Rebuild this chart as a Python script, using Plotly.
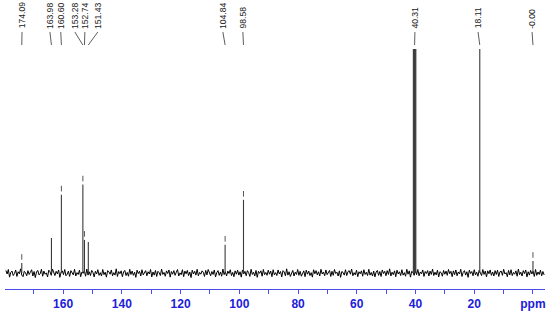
import numpy as np
import plotly.graph_objects as go

# peak positions (ppm) and heights (relative intensity, tallest = 100)
peak_ppm = [174.09, 163.98, 160.60, 153.28, 152.74, 151.43, 104.84, 98.58,
            40.73, 40.52, 40.31, 40.10, 39.89, 18.11, 0.00]
peak_height = [4.5, 15.7, 35.0, 39.5, 14.8, 13.9, 12.6, 32.7,
               100, 100, 100, 100, 100, 100, 5.4]

# peaks carrying a small peak-pick tick above them
picked_ppm = [174.09, 160.60, 153.28, 152.74, 104.84, 98.58, 0.00]
picked_height = [4.5, 35.0, 39.5, 14.8, 12.6, 32.7, 5.4]

# peak labels on top and where each label sits along the axis
label_text = ['174.09', '163.98', '160.60', '153.28', '152.74', '151.43',
              '104.84', '98.58', '40.31', '18.11', '-0.00']
label_peak = [174.09, 163.98, 160.60, 153.28, 152.74, 151.43,
              104.84, 98.58, 40.31, 18.11, 0.00]
label_pos = [174.0, 164.5, 160.8, 156.0, 152.6, 148.2,
             105.6, 98.8, 40.2, 18.7, 0.3]

# baseline noise read across the spectrum, left (high ppm) to right
noise = [
    1.2, -0.4, 1.6, -1.8, 0.3, 0.9, -1.1, -0.2, 1.4, -1.5, 0.6, -0.3, 1.9, -0.9, -1.6, 0.8, 0.2, -1.2, 1.1, -0.6,
    0.4, 1.5, -1.3, 0.7, -2.0, 0.5, 1.2, -0.8, -0.3, 1.7, -1.4, 0.9, -0.5, 0.1, -1.7, 1.3, 0.6, -1.0, 1.8, -0.2,
    -1.1, 0.8, -0.4, 1.4, -1.9, 0.3, 1.0, -0.7, 1.6, -1.2, -0.5, 0.9, -1.5, 1.1, 0.4, -0.8, 1.7, -1.3, 0.2, -0.6,
    1.3, -1.6, 0.5, -0.1, 1.0, -1.4, 1.8, -0.9, 0.6, -1.1, 1.2, 0.3, -1.7, 0.8, -0.4, 1.5, -1.0, 0.2, -1.3, 1.6,
    -0.7, 0.4, -1.8, 1.1, 0.6, -0.5, 1.4, -1.2, 0.2, -0.9, 1.9, -1.5, 0.7, -0.3, 1.0, -1.6, 0.5, 1.2, -1.1, 0.3,
    -1.4, 1.7, -0.6, 0.9, -1.0, 0.4, -1.9, 1.3, -0.2, 0.8, -1.3, 1.5, -0.8, 0.1, 1.1, -1.2, 0.6, -0.4, 1.6, -1.7,
    0.5, -0.9, 1.2, -1.5, 0.8, 0.2, -1.1, 1.8, -0.6, 0.3, -1.4, 1.0, -0.2, 1.4, -1.8, 0.7, -0.5, 1.1, -1.0, 0.4,
    1.6, -1.3, 0.1, -0.7, 1.5, -1.6, 0.9, -0.3, 1.2, -1.1, 0.5, -2.0, 1.3, -0.4, 0.8, -0.9, 1.7, -1.2, 0.3, -0.5,
    1.0, 0.4, -1.5, 1.2, -0.8, 1.6, -0.3, -1.2, 0.7, -0.6, 1.4, -1.7, 0.2, 1.1, -1.0, 0.5, -1.4, 1.8, -0.7, 0.6,
    -1.3, 0.9, -0.2, 1.5, -1.1, 0.3, -1.6, 1.0, -0.5, 1.3, -0.9, 0.6, -1.8, 1.4, -0.4, 0.8, -1.2, 1.1, 0.2, -1.5,
    1.7, -0.6, 0.4, -1.3, 1.2, -1.9, 0.8, -0.1, 1.0, -1.4, 1.6, -0.7, 0.3, -1.0, 1.3, -0.5, 0.9, -1.6, 1.5, -0.8,
    0.2, -1.1, 1.4, -0.4, 0.7, -1.7, 1.1, 0.5, -1.2, 1.9, -0.9, 0.6, -1.5, 0.1, 1.2, -1.3, 0.4, -0.6, 1.6, -1.0,
    0.8, -1.4, 0.3, 1.0, -1.6, 1.3, -0.5, 0.9, -1.1, 0.2, -1.8, 1.5, -0.3, 1.1, -0.8, 0.6, -1.3, 1.7, -0.4, 0.5,
    -1.2, 1.4, -0.7, 0.1, 1.2, -1.5, 0.8, -1.0, 1.6, -0.2, 0.4, -1.3, 1.0, -1.9, 0.7, 0.3, -0.9, 1.5, -1.1, 0.6,
    1.1, -0.5, 1.8, -1.2, 0.2, -0.8, 1.3, -1.6, 0.6, -0.3, 1.0, -1.4, 1.5, -0.6, 0.4, -1.1, 1.7, -0.9, 0.3, -1.3,
    0.9, -1.7, 0.5, 1.2, -1.0, 0.7, -1.5, 1.4, -0.2, 0.8, -1.2, 1.1, -0.6, 1.9, -1.3, 0.4, -0.7, 1.0, -1.6, 1.3,
    -0.4, 0.6, -1.1, 1.5, -0.9, 0.2, -1.4, 1.7, -0.5, 1.0, -1.8, 0.8, 0.3, -1.0, 1.2, -0.7, 1.6, -1.2, 0.5, -0.3,
    1.4, -1.5, 0.7, -0.2, 1.1, -1.3, 0.9, -0.6, 1.8, -1.1, 0.4, -0.8, 1.3, -1.7, 0.6, 0.2, -1.4, 1.2, -0.5, 0.9,
    -1.0, 1.6, -0.3, 0.8, -1.6, 1.0, -0.7, 1.4, -1.2, 0.5, -0.4, 1.7, -1.5, 0.3, 1.1, -0.9, 0.6, -1.9, 1.3, -0.2,
    0.7, -1.2, 1.5, -0.8, 0.4, -1.4, 1.2, 0.1, -1.1, 1.6, -0.6, 0.9, -1.7, 1.0, -0.3, 1.4, -1.0, 0.5, -1.3, 1.1,
    -0.6, 1.3, -1.5, 0.6, 0.9, -1.0, 1.7, -0.4, 0.2, -1.6, 1.2, -0.8, 1.5, -1.1, 0.3, -0.5, 1.0, -1.4, 1.8, -0.7,
    0.4, -1.3, 1.1, -0.2, 1.4, -1.7, 0.6, -0.9, 1.2, -0.4, 0.8, -1.5, 1.6, -1.0, 0.5, -0.6, 1.3, -1.2, 0.7, -0.8,
]

X_RANGE = [179.8, -4.1]
Y_RANGE = [-7.1, 121.9]
BLUE = '#2020d8'

fig = go.Figure()

# baseline noise
noise_x = np.linspace(X_RANGE[0] - 0.3, X_RANGE[1] + 0.3, len(noise))
fig.add_trace(go.Scatter(x=noise_x, y=noise, mode='lines',
                         line=dict(color='black', width=1.0),
                         hoverinfo='skip', showlegend=False))

# peaks as sticks from the baseline
sx, sy = [], []
for p, h in zip(peak_ppm, peak_height):
    sx += [p, p, None]
    sy += [0, h, None]
fig.add_trace(go.Scatter(x=sx, y=sy, mode='lines',
                         line=dict(color='#3a3a3a', width=1.1),
                         hoverinfo='skip', showlegend=False))

# small peak-pick ticks
fig.add_trace(go.Scatter(x=picked_ppm, y=[h + 2.7 for h in picked_height],
                         mode='markers',
                         marker=dict(symbol='line-ns', size=4,
                                     line=dict(color='#555', width=1)),
                         hoverinfo='skip', showlegend=False))

# labels and connector lines
for txt, pk, pos in zip(label_text, label_peak, label_pos):
    fig.add_shape(type='line', x0=pos, x1=pk, y0=107.6, y1=101.8,
                  xref='x', yref='y', line=dict(color='#333', width=0.8))
    fig.add_annotation(x=pos, y=108.2, xref='x', yref='y', text=txt,
                       textangle=-90, showarrow=False,
                       xanchor='center', yanchor='bottom',
                       font=dict(family='Liberation Sans, Arial', size=8.6,
                                 color='#222'))

tick_vals = list(range(170, -1, -10))
tick_text = ['' if v % 20 else str(v) for v in tick_vals]
tick_text[-1] = 'ppm'

fig.update_xaxes(range=X_RANGE, showgrid=False, zeroline=False,
                 showline=True, linecolor='#4a4aee', linewidth=1,
                 ticks='outside', ticklen=4, tickcolor='#4a4aee',
                 tickvals=tick_vals, ticktext=tick_text,
                 tickfont=dict(family='Liberation Sans, Arial', size=12,
                               color=BLUE, weight='bold'))
fig.update_yaxes(range=Y_RANGE, visible=False)

fig.update_layout(width=550, height=312,
                  margin=dict(l=5, r=5, t=0, b=23),
                  plot_bgcolor='white', paper_bgcolor='white')

# drop the page's default body margin so the figure sits at the window corner
fig.write_html('out.html', config={'displayModeBar': False},
               post_script="document.body.style.margin='0';")
